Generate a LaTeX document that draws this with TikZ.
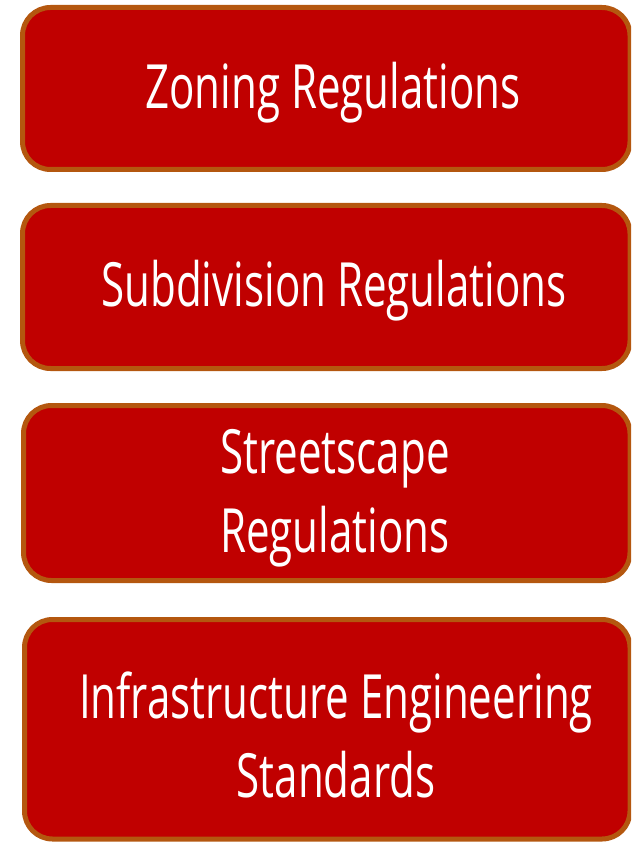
\documentclass[tikz,border=0pt]{standalone}
\usepackage{fontspec}
\setmainfont[FakeStretch=0.69]{Open Sans}
\definecolor{boxfill}{HTML}{C00000}
\definecolor{boxline}{HTML}{B4570F}
\begin{document}
\begin{tikzpicture}[x=1pt,y=-1pt,
  regbox/.style={draw=boxline,fill=boxfill,line width=5pt,rounded corners=28pt},
  regtext/.style={text=white,font=\fontsize{61}{79}\selectfont,align=center,inner sep=0pt}]
\useasboundingbox (0,0) rectangle (631,842);
\begin{scope}
\clip (0,0) rectangle (631,842);
\draw[regbox] (22.5,7.5) rectangle (630,169.5);
\draw[regbox] (22.5,205.5) rectangle (630,368.5);
\draw[regbox] (23.5,405.5) rectangle (630,580.5);
\draw[regbox] (24.5,619.5) rectangle (630,839);
\end{scope}
\node[regtext] (t1) at (333,93) {Zoning Regulations};
\node[regtext] (t2) at (334,291) {Subdivision Regulations};
\node[regtext] (t3) at (335,498) {Streetscape\\Regulations};
\node[regtext] (t4) at (336,735) {Infrastructure Engineering\\Standards};
\end{tikzpicture}
\end{document}
